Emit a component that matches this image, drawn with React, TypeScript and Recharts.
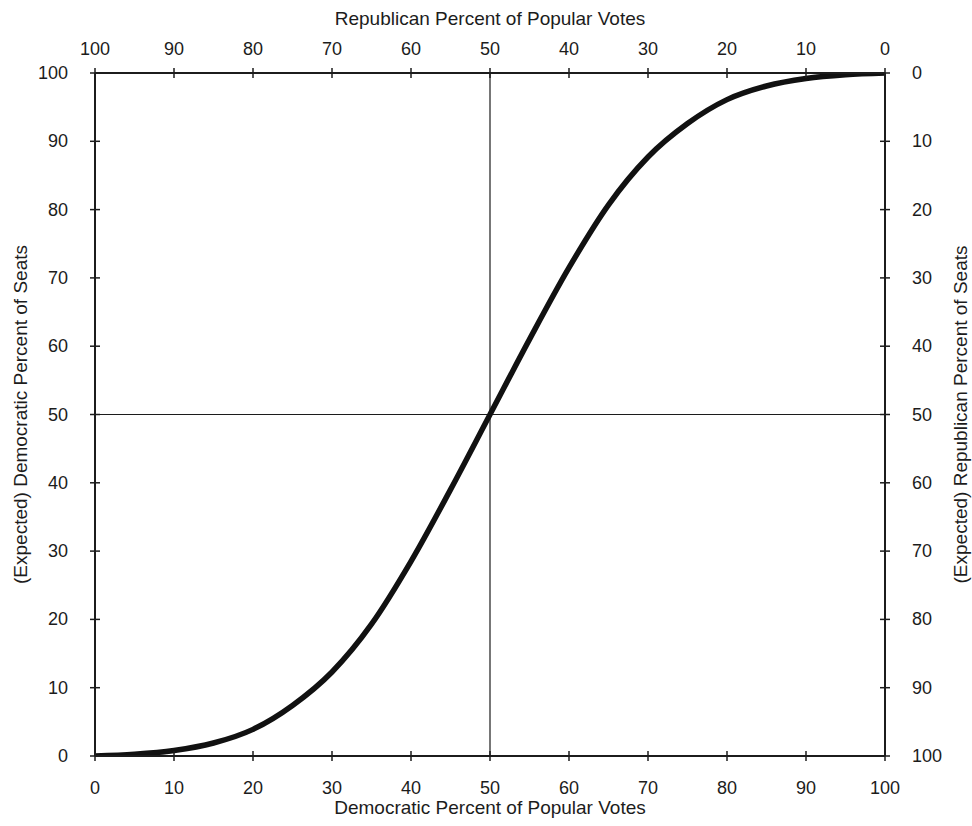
import { ComposedChart, Line, XAxis, YAxis, ReferenceLine } from 'recharts';

// democratic share of the vote vs expected democratic share of seats
const demVotes = [0, 5, 10, 15, 20, 25, 30, 35, 40, 45, 50, 55, 60, 65, 70, 75, 80, 85, 90, 95, 100];
const demSeats = [0, 0.25, 0.8, 1.9, 3.9, 7.4, 12.3, 19.3, 28.5, 39, 50, 61, 71.5, 80.7, 87.7, 92.6, 96.1, 98.1, 99.2, 99.75, 100];
const pctTicks = [0, 10, 20, 30, 40, 50, 60, 70, 80, 90, 100];

// republican side is just the complement, used by the top/right axes
const data = demVotes.map((v, i) => ({
  votes: v,
  seats: demSeats[i],
  repVotes: 100 - v,
  repSeats: 100 - demSeats[i],
}));

const FONT = '"Liberation Sans", Arial, Helvetica, sans-serif';
const INK = '#1c1c1c';

const BottomTick = ({ x, y, payload }: any) => (
  <g>
    <line x1={x} y1={y - 5} x2={x} y2={y + 5} stroke={INK} strokeWidth={1.5} />
    <text x={x} y={y + 38} textAnchor="middle" fontSize={18} fontFamily={FONT} fill={INK}>{payload.value}</text>
  </g>
);

const TopTick = ({ x, y, payload }: any) => (
  <g>
    <line x1={x} y1={y - 5} x2={x} y2={y + 5} stroke={INK} strokeWidth={1.5} />
    <text x={x} y={y - 18} textAnchor="middle" fontSize={18} fontFamily={FONT} fill={INK}>{payload.value}</text>
  </g>
);

const LeftTick = ({ x, y, payload }: any) => (
  <g>
    <line x1={x - 5} y1={y} x2={x + 5} y2={y} stroke={INK} strokeWidth={1.5} />
    <text x={x - 27} y={y + 6} textAnchor="end" fontSize={18} fontFamily={FONT} fill={INK}>{payload.value}</text>
  </g>
);

const RightTick = ({ x, y, payload }: any) => (
  <g>
    <line x1={x - 5} y1={y} x2={x + 5} y2={y} stroke={INK} strokeWidth={1.5} />
    <text x={x + 27} y={y + 6} textAnchor="start" fontSize={18} fontFamily={FONT} fill={INK}>{payload.value}</text>
  </g>
);

const titleStyle = { fontSize: 19, fontFamily: FONT, fill: INK };

export default function App() {
  return (
    <div style={{ position: 'absolute', left: 0, top: 0, background: '#fff' }}>
      <ComposedChart
        width={972}
        height={826}
        data={data}
        margin={{ top: 43, right: 47, bottom: 40, left: 45 }}
      >
        <XAxis
          xAxisId="dem"
          dataKey="votes"
          type="number"
          domain={[0, 100]}
          allowDataOverflow
          ticks={pctTicks}
          height={30}
          stroke={INK}
          strokeWidth={2}
          tickLine={false}
          tickSize={0}
          tickMargin={0}
          tick={<BottomTick />}
          label={{
            content: ({ viewBox }: any) => (
              <text x={viewBox.x + viewBox.width / 2} y={viewBox.y + 58} textAnchor="middle" {...titleStyle}>
                Democratic Percent of Popular Votes
              </text>
            ),
          }}
        />
        <XAxis
          xAxisId="rep"
          dataKey="repVotes"
          orientation="top"
          type="number"
          domain={[0, 100]}
          allowDataOverflow
          reversed
          ticks={pctTicks}
          height={30}
          stroke={INK}
          strokeWidth={2}
          tickLine={false}
          tickSize={0}
          tickMargin={0}
          tick={<TopTick />}
          label={{
            content: ({ viewBox }: any) => (
              <text x={viewBox.x + viewBox.width / 2} y={viewBox.y - 18} textAnchor="middle" {...titleStyle}>
                Republican Percent of Popular Votes
              </text>
            ),
          }}
        />
        <YAxis
          yAxisId="dem"
          type="number"
          domain={[0, 100]}
          allowDataOverflow
          ticks={pctTicks}
          width={50}
          stroke={INK}
          strokeWidth={2}
          tickLine={false}
          tickSize={0}
          tickMargin={0}
          tick={<LeftTick />}
          label={{
            content: ({ viewBox }: any) => {
              const cx = viewBox.x - 25;
              const cy = viewBox.y + viewBox.height / 2;
              return (
                <text x={cx} y={cy} textAnchor="middle" dominantBaseline="central" transform={`rotate(-90 ${cx} ${cy})`} {...titleStyle}>
                  (Expected) Democratic Percent of Seats
                </text>
              );
            },
          }}
        />
        <YAxis
          yAxisId="rep"
          orientation="right"
          type="number"
          domain={[0, 100]}
          allowDataOverflow
          reversed
          ticks={pctTicks}
          width={40}
          stroke={INK}
          strokeWidth={2}
          tickLine={false}
          tickSize={0}
          tickMargin={0}
          tick={<RightTick />}
          label={{
            content: ({ viewBox }: any) => {
              const cx = viewBox.x + 75;
              const cy = viewBox.y + viewBox.height / 2;
              return (
                <text x={cx} y={cy} textAnchor="middle" dominantBaseline="central" transform={`rotate(-90 ${cx} ${cy})`} {...titleStyle}>
                  (Expected) Republican Percent of Seats
                </text>
              );
            },
          }}
        />
        <ReferenceLine xAxisId="dem" yAxisId="dem" x={50} stroke={INK} strokeWidth={1.2} />
        <ReferenceLine xAxisId="dem" yAxisId="dem" y={50} stroke={INK} strokeWidth={1.2} />
        {/* same curve read on the republican axes; kept invisible, it only feeds the top/right scales */}
        <Line
          xAxisId="rep"
          yAxisId="rep"
          dataKey="repSeats"
          type="monotone"
          stroke="#111"
          strokeOpacity={0}
          strokeWidth={1}
          dot={false}
          activeDot={false}
          isAnimationActive={false}
        />
        <Line
          xAxisId="dem"
          yAxisId="dem"
          dataKey="seats"
          type="monotone"
          stroke="#111"
          strokeWidth={5.5}
          dot={false}
          isAnimationActive={false}
        />
      </ComposedChart>
    </div>
  );
}
